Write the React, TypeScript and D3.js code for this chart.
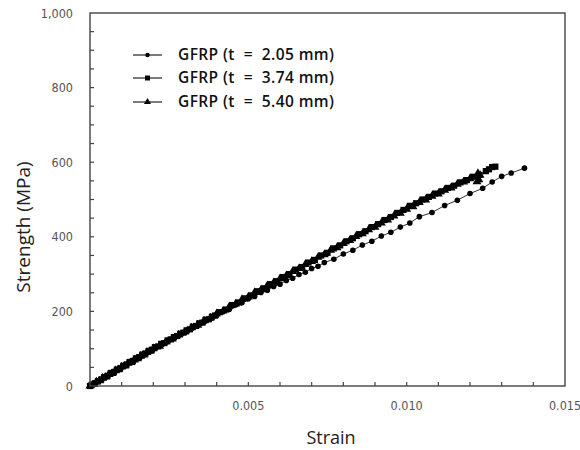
import React from "react";
import * as d3 from "d3";

const strain1 = [0, 0.0001, 0.0002, 0.0003, 0.0004, 0.0005, 0.0006, 0.0007, 0.0008, 0.0009, 0.0010, 0.0011, 0.0012, 0.0013, 0.0014, 0.0015, 0.0016, 0.0017, 0.0018, 0.0019, 0.0020, 0.0021, 0.0022, 0.0023, 0.0024, 0.0025, 0.0026, 0.0027, 0.0028, 0.0029, 0.0030, 0.0031, 0.0032, 0.0033, 0.0034, 0.0035, 0.0036, 0.0037, 0.0038, 0.0039, 0.0040, 0.0042, 0.0044, 0.0046, 0.0048, 0.0050, 0.0052, 0.0054, 0.0056, 0.0058, 0.0060, 0.0062, 0.0064, 0.0066, 0.0068, 0.0070, 0.0072, 0.0074, 0.0077, 0.0080, 0.0083, 0.0086, 0.0089, 0.0092, 0.0095, 0.0098, 0.0101, 0.0104, 0.0108, 0.0112, 0.0116, 0.0120, 0.0124, 0.0127, 0.0130, 0.0133, 0.01372];
const stress1 = [0, 6, 10, 16, 20, 26, 30, 36, 40, 46, 50, 56, 60, 66, 70, 76, 80, 86, 90, 96, 99, 106, 108, 115, 117, 124, 126, 133, 135, 142, 144, 151, 153, 160, 162, 169, 171, 177, 180, 186, 189, 199, 206, 217, 223, 234, 240, 251, 257, 267, 273, 283, 289, 299, 305, 315, 321, 331, 340, 354, 364, 378, 388, 402, 412, 426, 437, 454, 465, 484, 498, 516, 530, 547, 562, 571, 584];

const strain2 = [0, 0.00005, 0.00015, 0.00025, 0.00035, 0.00045, 0.00055, 0.00065, 0.00075, 0.00085, 0.00095, 0.00105, 0.00115, 0.00125, 0.00135, 0.00145, 0.00155, 0.00165, 0.00175, 0.00185, 0.00195, 0.00205, 0.00215, 0.00225, 0.00235, 0.00245, 0.00255, 0.00265, 0.00275, 0.00285, 0.00295, 0.00305, 0.00315, 0.00325, 0.00335, 0.00345, 0.00355, 0.00365, 0.00375, 0.00385, 0.00395, 0.0041, 0.0043, 0.0045, 0.0047, 0.0049, 0.0051, 0.0053, 0.0055, 0.0057, 0.0059, 0.0061, 0.0063, 0.0065, 0.0067, 0.0069, 0.0071, 0.0073, 0.0075, 0.0077, 0.0079, 0.0081, 0.0083, 0.0085, 0.0087, 0.0089, 0.0091, 0.0093, 0.0095, 0.0097, 0.0099, 0.0101, 0.0103, 0.0105, 0.0107, 0.0109, 0.0111, 0.0113, 0.0115, 0.0117, 0.0119, 0.0121, 0.0123, 0.0125, 0.0126, 0.0127, 0.0128];
const stress2 = [0, 3, 7, 13, 17, 24, 27, 34, 37, 44, 47, 54, 57, 64, 67, 74, 77, 84, 87, 94, 97, 104, 106, 113, 115, 122, 125, 131, 134, 140, 143, 149, 152, 159, 161, 168, 170, 177, 179, 186, 189, 198, 205, 217, 224, 235, 243, 254, 262, 273, 281, 292, 300, 312, 319, 331, 338, 350, 357, 369, 377, 388, 396, 407, 415, 426, 434, 445, 453, 464, 472, 483, 490, 500, 507, 516, 522, 531, 537, 546, 552, 561, 566, 576, 581, 587, 588];

const strain3 = [0, 0.0001, 0.0002, 0.0003, 0.0004, 0.0005, 0.0006, 0.0007, 0.0008, 0.0009, 0.0010, 0.0011, 0.0012, 0.0013, 0.0014, 0.0015, 0.0016, 0.0017, 0.0018, 0.0019, 0.0020, 0.0022, 0.0024, 0.0026, 0.0028, 0.0030, 0.0032, 0.0034, 0.0036, 0.0038, 0.0040, 0.0042, 0.0044, 0.0046, 0.0048, 0.0050, 0.0052, 0.0054, 0.0056, 0.0058, 0.0060, 0.0062, 0.0064, 0.0066, 0.0068, 0.0070, 0.0072, 0.0074, 0.0076, 0.0078, 0.0080, 0.0082, 0.0084, 0.0086, 0.0088, 0.0090, 0.0092, 0.0094, 0.0096, 0.0098, 0.0100, 0.0102, 0.0104, 0.0106, 0.0108, 0.0110, 0.0112, 0.0114, 0.0116, 0.0118, 0.0120, 0.01225, 0.01232, 0.01228, 0.01222];
const stress3 = [0, 4, 11, 14, 21, 24, 31, 34, 41, 44, 51, 54, 61, 63, 70, 73, 80, 83, 90, 93, 100, 107, 118, 126, 137, 145, 156, 163, 175, 182, 194, 201, 213, 220, 232, 239, 251, 258, 269, 277, 288, 296, 307, 315, 326, 334, 345, 352, 364, 371, 382, 390, 401, 408, 419, 426, 437, 445, 456, 463, 474, 481, 492, 499, 509, 515, 525, 531, 541, 547, 556, 570, 565, 553, 548];

const seriesNames = ["GFRP (t  =  2.05 mm)", "GFRP (t  =  3.74 mm)", "GFRP (t  =  5.40 mm)"];
const seriesMarkers = ["circle", "square", "triangle"];
const xTickValues = [0.005, 0.01, 0.015];
const yTickValues = [0, 200, 400, 600, 800, 1000];

const W = 580, H = 450;
const M = { left: 90, right: 565, top: 13, bottom: 386 };

function marker(kind: string, x: number, y: number, key: any, s = 1) {
  if (kind === "circle") return <circle key={key} cx={x} cy={y} r={2.8 * s} fill="#000" />;
  if (kind === "square") return <rect key={key} x={x - 3.1 * s} y={y - 3.1 * s} width={6.2 * s} height={6.2 * s} fill="#000" />;
  const sym = d3.symbol(d3.symbolTriangle, 34 * s * s)();
  return <path key={key} d={sym as string} transform={`translate(${x},${y})`} fill="#000" />;
}

export default function App() {
  const x = d3.scaleLinear().domain([0, 0.015]).range([M.left, M.right]);
  const y = d3.scaleLinear().domain([0, 1000]).range([M.bottom, M.top]);
  const series = [
    strain1.map((s, i) => [s, stress1[i]]),
    strain2.map((s, i) => [s, stress2[i]]),
    strain3.map((s, i) => [s, stress3[i]]),
  ];
  const line = d3.line<number[]>().x(d => x(d[0])).y(d => y(d[1]));
  const xMinor = d3.range(1, 15).map(i => i * 0.001);
  const yMinor = d3.range(1, 20).map(i => i * 50);
  const fmtY = d3.format(",");
  const fmtX = d3.format(".3f");
  const tickFont = "'DejaVu Sans Condensed', 'Liberation Sans Narrow', 'DejaVu Sans', sans-serif";
  const titleFont = "'Open Sans', 'Noto Sans', sans-serif";
  const legendY = [55, 78, 102];

  return (
    <div style={{ position: "absolute", left: 0, top: 0 }}>
      <svg width={W} height={H} style={{ display: "block", background: "#fff" }}>
        <rect x={0} y={0} width={W} height={H} fill="#fff" />
        {series.map((d, i) => (
          <path key={"l" + i} d={line(d) as string} fill="none" stroke="#333" strokeWidth={1} />
        ))}
        {series.map((d, i) => (
          <g key={"m" + i}>{d.map((p, j) => marker(seriesMarkers[i], x(p[0]), y(p[1]), j))}</g>
        ))}
        <rect x={M.left} y={M.top} width={M.right - M.left} height={M.bottom - M.top} fill="none" stroke="#444" strokeWidth={1.4} />
        {xMinor.map((v, i) => (
          <line key={"xt" + i} x1={x(v)} x2={x(v)} y1={M.bottom} y2={M.bottom - 4} stroke="#444" strokeWidth={1.2} />
        ))}
        {yMinor.map((v, i) => (
          <line key={"yt" + i} x1={M.left} x2={M.left + 4} y1={y(v)} y2={y(v)} stroke="#444" strokeWidth={1.2} />
        ))}
        {xTickValues.map((v, i) => (
          <text key={"xl" + i} x={x(v)} y={410} textAnchor="middle" fontFamily={tickFont} fontSize={12.5} fill="#555">{fmtX(v)}</text>
        ))}
        {yTickValues.map((v, i) => (
          <text key={"yl" + i} x={73} y={y(v) + 4.5} textAnchor="end" fontFamily={tickFont} fontSize={12.5} fill="#555">{fmtY(v)}</text>
        ))}
        <text x={331} y={444} textAnchor="middle" fontFamily={titleFont} fontSize={18} fill="#222">Strain</text>
        <text transform={`translate(30,227) rotate(-90)`} textAnchor="middle" fontFamily={titleFont} fontSize={19} fill="#222">Strength (MPa)</text>
        {seriesNames.map((n, i) => (
          <g key={"lg" + i}>
            <line x1={133} x2={162} y1={legendY[i]} y2={legendY[i]} stroke="#222" strokeWidth={1.2} />
            {marker(seriesMarkers[i], 147.5, legendY[i], "lm" + i, 0.8)}
            <text x={178} y={legendY[i] + 5} fontFamily={titleFont} fontWeight={600} fontSize={15.5} letterSpacing={0.4} fill="#111" style={{ whiteSpace: "pre" }}>{n}</text>
          </g>
        ))}
      </svg>
    </div>
  );
}
